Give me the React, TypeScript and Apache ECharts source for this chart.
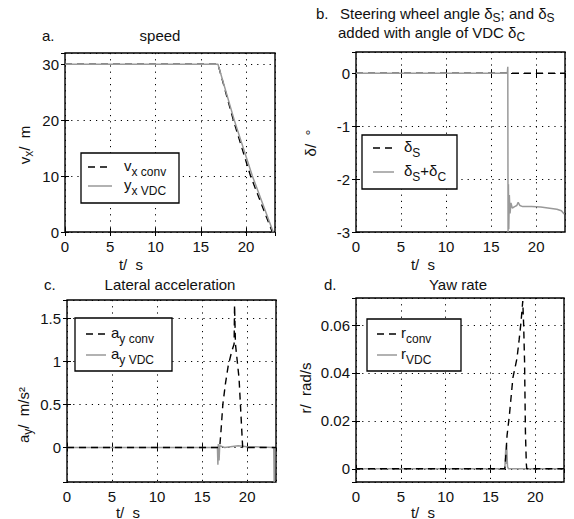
import React, { useEffect, useRef } from "react";
import * as echarts from "echarts";

// ---- data (t [s], value) ----
const speedConv: number[][] = [[0, 30], [16.9, 30], [18.6, 20], [20.5, 10], [22.9, 0]];
const speedVDC: number[][] = [[0, 30], [16.9, 30], [18.7, 20], [20.7, 10], [23.0, 0]];

const steerConv: number[][] = [[0, 0], [23.2, 0]];
const steerVDC: number[][] = [
  [0, 0], [16.8, 0], [16.85, 0.12], [16.88, -3.0], [16.92, -2.1], [16.96, -2.95], [17.02, -2.3],
  [17.1, -2.65], [17.2, -2.45], [17.35, -2.55], [17.6, -2.52], [17.85, -2.5], [18.0, -2.44],
  [18.2, -2.5], [18.5, -2.52], [19.5, -2.52], [20.5, -2.53], [21.5, -2.55], [22.3, -2.57],
  [22.8, -2.6], [23.1, -2.66],
];

const latConv: number[][] = [
  [0, 0], [16.95, 0], [17.1, 0.2], [17.3, 0.5], [17.6, 0.75], [17.9, 0.95], [18.3, 1.12],
  [18.55, 1.2], [18.6, 1.65], [18.7, 1.2], [18.9, 1.0], [19.1, 0.8], [19.3, 0.4], [19.45, 0.1],
  [19.5, 0], [23.2, 0],
];
const latVDC: number[][] = [
  [0, 0], [16.7, 0], [16.75, -0.2], [16.8, 0.04], [16.88, -0.15], [16.95, 0.02], [17.5, 0],
  [19.0, 0.02], [20, 0.01], [22.95, 0], [23.0, -0.4], [23.05, 0],
];

const yawConv: number[][] = [
  [0, 0], [16.6, 0], [16.7, 0.005], [16.85, 0.014], [17.1, 0.022], [17.3, 0.03], [17.5, 0.038],
  [17.95, 0.046], [18.2, 0.054], [18.4, 0.061], [18.6, 0.07], [18.7, 0.06], [18.8, 0.045],
  [18.85, 0.03], [18.9, 0.015], [19.0, 0.002], [19.05, 0], [23.2, 0],
];
const yawVDC: number[][] = [
  [0, 0], [16.6, 0], [16.7, 0.008], [16.75, 0.002], [16.8, 0.01], [16.9, 0.001], [17.0, 0], [23.2, 0],
];

const tMax = 23.2;
const yExtents: [number, number][] = [[0, 32], [-3, 0.4], [-0.4, 1.71], [-0.0055, 0.0713]];
const yIntervals: (number | undefined)[] = [10, 1, undefined, undefined];

const FONT = "Liberation Sans, Arial, Helvetica, sans-serif";
const INK = "#111";
const GRAY = "#999";
const MAIN = 15;
const SUB = 12;

type Part = [string, boolean]; // [text, isSubscript]

let measureCtx: CanvasRenderingContext2D | null = null;
function measure(text: string, size: number): number {
  if (!measureCtx) measureCtx = document.createElement("canvas").getContext("2d");
  if (!measureCtx) return text.length * size * 0.55;
  measureCtx.font = `${size}px ${FONT}`;
  return measureCtx.measureText(text).width;
}

// builds text pieces in local coords, main text centred vertically at y=0
function pieces(parts: Part[], align: "left" | "center", subDy: number) {
  const widths = parts.map(([t, s]) => measure(t, s ? SUB : MAIN));
  const total = widths.reduce((a, b) => a + b, 0);
  let x = align === "center" ? -total / 2 : 0;
  return parts.map(([t, s], i) => {
    const el = {
      type: "text",
      x,
      y: s ? subDy : 0,
      z: 120,
      style: {
        text: t,
        font: `${s ? SUB : MAIN}px ${FONT}`,
        fill: INK,
        align: "left",
        textAlign: "left",
        verticalAlign: "middle",
        textVerticalAlign: "middle",
      },
    };
    x += widths[i];
    return el;
  });
}

function label(x: number, y: number, parts: Part[], align: "left" | "center" = "left", subDy = 6, rotate = false) {
  return {
    type: "group",
    x,
    y,
    rotation: rotate ? Math.PI / 2 : 0,
    z: 120,
    children: pieces(parts, align, subDy),
  };
}

function legend(bx: number, by: number, bw: number, bh: number, lx1: number, lx2: number, y1: number, y2: number, tx: number, t1: Part[], t2: Part[]) {
  return [
    { type: "rect", z: 90, shape: { x: bx, y: by, width: bw, height: bh }, style: { fill: "#fff", stroke: "#000", lineWidth: 1.3 } },
    { type: "line", z: 95, shape: { x1: lx1, y1: y1, x2: lx2, y2: y1 }, style: { stroke: "#000", lineWidth: 1.5, lineDash: [7, 5] } },
    { type: "line", z: 95, shape: { x1: lx1, y1: y2, x2: lx2, y2: y2 }, style: { stroke: GRAY, lineWidth: 1.5 } },
    label(tx, y1 - 2, t1, "left", 7),
    label(tx, y2 - 2, t2, "left", 7),
  ];
}

const grids = [
  { left: 65, top: 53, width: 210, height: 179 },
  { left: 356, top: 52, width: 209, height: 180 },
  { left: 67, top: 300, width: 209, height: 182 },
  { left: 356, top: 298, width: 208, height: 184 },
];

export default function App() {
  const ref = useRef<HTMLDivElement>(null);
  useEffect(() => {
    if (!ref.current) return;
    const chart = echarts.init(ref.current, undefined, { renderer: "svg" });

    const splitLine = { show: true, lineStyle: { color: "#000", width: 1, type: [1.2, 5] as any } };
    const axisLabel = { fontFamily: FONT, fontSize: MAIN, color: INK };
    const tick = { show: true, inside: true, length: 4, lineStyle: { color: "#000" } };

    const xBase = (i: number) => ({
      type: "value",
      gridIndex: i,
      min: 0,
      max: tMax,
      interval: 5,
      axisLine: { show: false },
      axisTick: tick,
    });
    const yBase = (i: number) => ({
      type: "value",
      gridIndex: i,
      min: yExtents[i][0],
      max: yExtents[i][1],
      ...(yIntervals[i] !== undefined ? { interval: yIntervals[i] } : { splitNumber: 4 }),
      axisLine: { show: false },
      axisTick: tick,
    });

    const xAxis = [
      ...grids.map((_, i) => ({
        ...xBase(i),
        position: "bottom",
        axisLabel: { ...axisLabel, margin: 7, showMaxLabel: false },
        splitLine,
      })),
      ...grids.map((_, i) => ({
        ...xBase(i),
        position: "top",
        axisLabel: { show: false },
        splitLine: { show: false },
      })),
    ];
    const yAxis = [
      ...grids.map((_, i) => ({
        ...yBase(i),
        position: "left",
        axisLabel: { ...axisLabel, margin: 6, showMaxLabel: false, showMinLabel: i === 0 || i === 1 },
        splitLine,
      })),
      ...grids.map((_, i) => ({
        ...yBase(i),
        position: "right",
        axisLabel: { show: false },
        splitLine: { show: false },
      })),
    ];

    const conv = { color: "#000", width: 1.4, type: [7, 5] as any };
    const vdc = { color: GRAY, width: 1.5, type: "solid" as any };
    const mk = (name: string, data: number[][], idx: number, ls: any, z: number) => ({
      name,
      type: "line",
      xAxisIndex: idx,
      yAxisIndex: idx,
      data,
      symbol: "none",
      showSymbol: false,
      lineStyle: ls,
      z,
    });

    chart.setOption({
      animation: false,
      backgroundColor: "#fff",
      grid: grids.map((g) => ({ ...g, show: true, borderColor: "#000", borderWidth: 1.4, backgroundColor: "transparent" })),
      xAxis,
      yAxis,
      series: [
        mk("v_x conv", speedConv, 0, conv, 2),
        mk("v_x VDC", speedVDC, 0, vdc, 3),
        mk("δS", steerConv, 1, conv, 2),
        mk("δS+δC", steerVDC, 1, vdc, 3),
        mk("a_y conv", latConv, 2, conv, 3),
        mk("a_y VDC", latVDC, 2, vdc, 2),
        mk("r conv", yawConv, 3, conv, 3),
        mk("r VDC", yawVDC, 3, vdc, 2),
      ],
      graphic: [
        // titles
        label(42, 35, [["a.", false]]),
        label(160, 35, [["speed", false]], "center"),
        label(316, 13, [["b.", false]]),
        label(340, 13, [["Steering wheel angle δ", false], ["S", true], ["; and δ", false], ["S", true]], "left", 5),
        label(338, 32, [["added with angle of VDC δ", false], ["C", true]], "left", 5),
        label(44, 284, [["c.", false]]),
        label(170, 284, [["Lateral acceleration", false]], "center"),
        label(324, 284, [["d.", false]]),
        label(458, 284, [["Yaw rate", false]], "center"),
        // x axis names
        label(131, 264, [["t/  s", false]], "center"),
        label(423, 264, [["t/  s", false]], "center"),
        label(128, 512, [["t/  s", false]], "center"),
        label(423, 512, [["t/  s", false]], "center"),
        // y axis names (rotated)
        label(24, 145, [["v", false], ["x", true], ["/  m", false]], "center", 5, true),
        label(310, 143, [["δ/  °", false]], "center", 5, true),
        label(23, 415, [["a", false], ["y", true], ["/  m/s²", false]], "center", 5, true),
        label(305, 388, [["r/  rad/s", false]], "center", 5, true),
        // legends
        ...legend(81, 153, 98, 50, 88, 112, 167, 186, 124, [["v", false], ["x conv", true]], [["y", false], ["x VDC", true]]),
        ...legend(362, 135, 95, 54, 373, 394, 148, 172, 404, [["δ", false], ["S", true]], [["δ", false], ["S", true], ["+δ", false], ["C", true]]),
        ...legend(75, 318, 97, 53, 86, 106, 334, 355, 111, [["a", false], ["y conv", true]], [["a", false], ["y VDC", true]]),
        ...legend(367, 319, 94, 52, 377, 397, 334, 355, 401, [["r", false], ["conv", true]], [["r", false], ["VDC", true]]),
      ],
    });
    return () => chart.dispose();
  }, []);
  return <div ref={ref} style={{ position: "absolute", left: 0, top: 0, width: 574, height: 519 }} />;
}
